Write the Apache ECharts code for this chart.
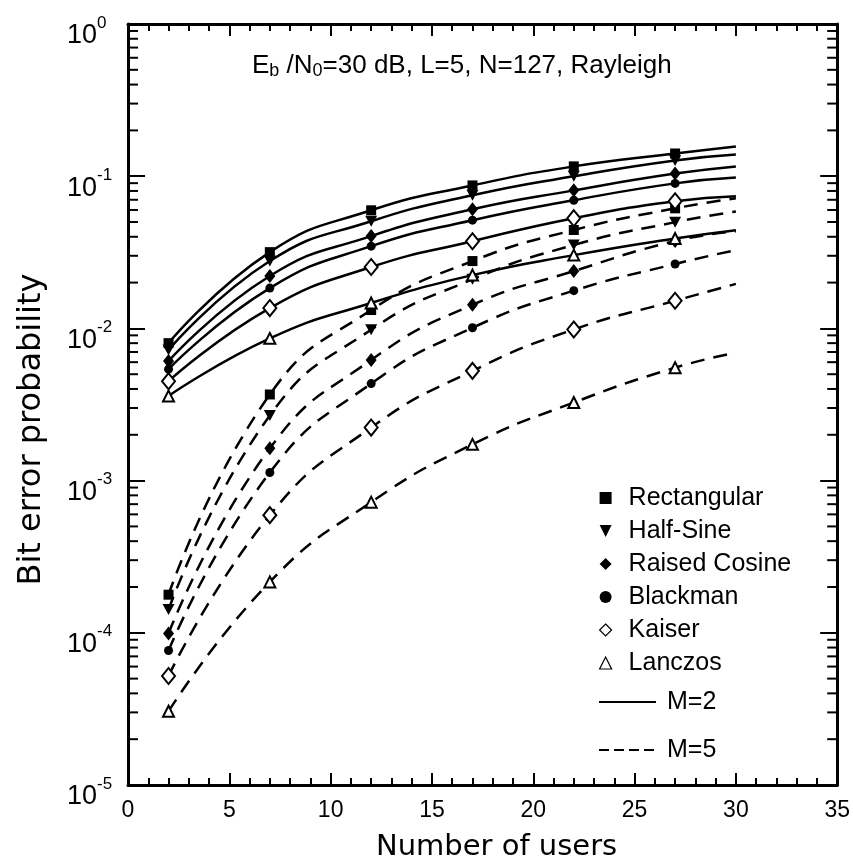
<!DOCTYPE html>
<html>
<head>
<meta charset="UTF-8">
<title>BER vs users</title>
<script src="https://cdn.jsdelivr.net/npm/echarts@6/dist/echarts.min.js"></script>
<style>
  html, body { margin: 0; padding: 0; background: #fff; }
  #chart { width: 853px; height: 867px; }
</style>
</head>
<body>
<div id="chart"></div>
<script>
// number of users (x); last point has no marker
var users = [2, 7, 12, 17, 22, 27, 30];

// M=2 (solid)
var rectM2   = [0.0080, 0.0317, 0.0597, 0.087, 0.116, 0.141, 0.157];
var halfM2   = [0.0072, 0.0277, 0.0506, 0.075, 0.100, 0.127, 0.139];
var rcosM2   = [0.0061, 0.0221, 0.0404, 0.0607, 0.0807, 0.104, 0.116];
var blackM2  = [0.0054, 0.0184, 0.0347, 0.0514, 0.0695, 0.0897, 0.098];
var kaiserM2 = [0.0045, 0.0136, 0.0253, 0.0374, 0.053, 0.0684, 0.0738];
var lancM2   = [0.0036, 0.0086, 0.0147, 0.0224, 0.0303, 0.039, 0.0442];

// M=5 (dashed)
var rectM5   = [1.78e-4, 3.68e-3, 0.0132, 0.0277, 0.0443, 0.0615, 0.0716];
var halfM5   = [1.42e-4, 2.68e-3, 9.8e-3, 0.021, 0.0353, 0.0499, 0.0586];
var rcosM5   = [9.9e-5, 1.63e-3, 6.2e-3, 0.0143, 0.0238, 0.0375, 0.0434];
var blackM5  = [7.65e-5, 1.13e-3, 4.34e-3, 0.0101, 0.0177, 0.0265, 0.0327];
var kaiserM5 = [5.2e-5, 5.93e-4, 2.23e-3, 5.26e-3, 9.84e-3, 0.0152, 0.0196];
var lancM5   = [3.05e-5, 2.16e-4, 7.22e-4, 1.73e-3, 3.26e-3, 5.52e-3, 6.92e-3];

var windowNames = ['Rectangular', 'Half-Sine', 'Raised Cosine', 'Blackman', 'Kaiser', 'Lanczos'];
var xTicks = [0, 5, 10, 15, 20, 25, 30, 35];
var decades = [1e-5, 1e-4, 1e-3, 1e-2, 1e-1];
var minorSteps = [2, 3, 4, 5, 6, 7, 8, 9];

var FONT = '"Liberation Sans", Arial, sans-serif';
var NAMEFONT = '"DejaVu Sans", sans-serif';

var myChart = echarts.init(document.getElementById('chart'));

// marker look per window
var marks = {
  'Rectangular':   { symbol: 'rect', size: 10 },
  'Half-Sine':     { symbol: 'path://M0,0L10,0L5,9Z', size: [12, 11] },
  'Raised Cosine': { symbol: 'diamond', size: [11, 14] },
  'Blackman':      { symbol: 'circle', size: 9 },
  'Kaiser':        { symbol: 'emptyDiamond', size: [13, 16] },
  'Lanczos':       { symbol: 'emptyTriangle', size: 11 }
};

function pts(vals) {
  return vals.map(function (v, i) {
    var p = { value: [users[i], v] };
    if (i == vals.length - 1) p.symbol = 'none';
    return p;
  });
}

function mkSeries(name, vals, dashed) {
  var m = marks[name];
  return {
    name: name,
    type: 'line',
    data: pts(vals),
    smooth: 0.5,
    symbol: m.symbol,
    symbolSize: m.size,
    showAllSymbol: true,
    lineStyle: { color: '#000', width: 2.5, type: dashed ? [14, 9] : 'solid' },
    itemStyle: { color: '#000', borderColor: '#000', borderWidth: m.symbol.indexOf('empty') == 0 ? 2.5 : 0 },
    emphasis: { disabled: true },
    z: 3
  };
}

var series = [];
var solid = [rectM2, halfM2, rcosM2, blackM2, kaiserM2, lancM2];
var dash = [rectM5, halfM5, rcosM5, blackM5, kaiserM5, lancM5];
for (var i = 0; i < windowNames.length; i++) {
  series.push(mkSeries(windowNames[i], solid[i], false));
  series.push(mkSeries(windowNames[i], dash[i], true));
}
// line-style legend entries
series.push({ name: 'M=2', type: 'line', data: [], symbol: 'none',
  lineStyle: { color: '#000', width: 1.5, type: 'solid' }, itemStyle: { color: '#000' } });
series.push({ name: 'M=5', type: 'line', data: [], symbol: 'none',
  lineStyle: { color: '#000', width: 1.5, type: [10, 5] }, itemStyle: { color: '#000' } });

// minor log ticks on left and right edges
var minorData = [];
decades.forEach(function (d) {
  minorSteps.forEach(function (k) { minorData.push([0, d * k]); });
});
series.push({
  type: 'custom',
  silent: true,
  clip: false,
  data: minorData,
  z: 5,
  renderItem: function (params, api) {
    var v = api.value(1);
    var a = api.coord([0, v]);
    var b = api.coord([35, v]);
    return {
      type: 'group',
      children: [
        { type: 'line', shape: { x1: a[0], y1: a[1], x2: a[0] + 10, y2: a[1] }, style: { stroke: '#000', lineWidth: 2 } },
        { type: 'line', shape: { x1: b[0], y1: b[1], x2: b[0] - 10, y2: b[1] }, style: { stroke: '#000', lineWidth: 2 } }
      ]
    };
  }
});

var xBase = {
  type: 'value', min: xTicks[0], max: xTicks[xTicks.length - 1], interval: 5,
  axisLine: { show: true, lineStyle: { color: '#000', width: 3 } },
  axisTick: { show: true, inside: true, length: 12, lineStyle: { color: '#000', width: 2 } },
  minorTick: { show: true, splitNumber: 5, length: 7, lineStyle: { color: '#000', width: 2 } },
  splitLine: { show: false }
};
var yBase = {
  type: 'log', logBase: 10, min: 1e-5, max: 1,
  axisLine: { show: true, onZero: false, lineStyle: { color: '#000', width: 3 } },
  axisTick: { show: true, inside: true, length: 17, lineStyle: { color: '#000', width: 2 } },
  splitLine: { show: false }
};

var hidden = { color: 'rgba(0,0,0,0)', borderColor: 'rgba(0,0,0,0)', borderWidth: 0 };

option = {
  animation: false,
  backgroundColor: '#fff',
  title: {
    left: 247, top: 46,
    text: '{a|E}{s|b}{a| /N}{s|0}{a|=30 dB, L=5, N=127, Rayleigh}',
    textStyle: {
      rich: {
        a: { fontFamily: FONT, fontSize: 26, fontWeight: 'normal', color: '#000' },
        s: { fontFamily: FONT, fontSize: 18, fontWeight: 'normal', color: '#000', padding: [11, 0, 0, 0] }
      }
    }
  },
  grid: { left: 128, right: 11, top: 24, bottom: 80 },
  legend: [{
    orient: 'vertical',
    left: 594, top: 479,
    itemWidth: 12, itemHeight: 12, itemGap: 5,
    selectedMode: false,
    textStyle: { fontFamily: FONT, fontSize: 25, color: '#000', lineHeight: 28, padding: [0, 0, 0, 12] },
    data: [
      { name: 'Rectangular', icon: 'rect' },
      { name: 'Half-Sine', icon: 'path://M0,0L10,0L5,10Z' },
      { name: 'Raised Cosine', icon: 'diamond' },
      { name: 'Blackman', icon: 'circle' },
      { name: 'Kaiser', icon: 'diamond', itemStyle: { color: '#fff', borderColor: '#000', borderWidth: 1.2 } },
      { name: 'Lanczos', icon: 'triangle', itemStyle: { color: '#fff', borderColor: '#000', borderWidth: 1.2 } }
    ]
  }, {
    orient: 'vertical',
    left: 593, top: 683,
    itemWidth: 57, itemHeight: 14, itemGap: 20,
    selectedMode: false,
    textStyle: { fontFamily: FONT, fontSize: 25, color: '#000', lineHeight: 28, padding: [0, 0, 0, 6] },
    data: [
      { name: 'M=2', itemStyle: hidden },
      { name: 'M=5', itemStyle: hidden }
    ]
  }],
  xAxis: [
    echarts.util.merge({
      position: 'bottom',
      name: 'Number of users',
      nameLocation: 'middle',
      nameGap: 48,
      nameTextStyle: { fontFamily: NAMEFONT, fontSize: 29, color: '#000', padding: [0, 0, 0, 28] },
      axisLabel: { margin: 14, fontFamily: FONT, fontSize: 23, color: '#000' }
    }, xBase, true),
    echarts.util.merge({ position: 'top', axisLabel: { show: false } }, xBase, true)
  ],
  yAxis: [
    echarts.util.merge({
      position: 'left',
      name: 'Bit error probability',
      nameLocation: 'middle',
      nameGap: 80,
      nameTextStyle: { fontFamily: NAMEFONT, fontSize: 32, color: '#000', padding: [0, 50, 0, 0] },
      axisLabel: {
        margin: 61, align: 'left', verticalAlign: 'middle',
        padding: [16, 0, 0, 0],
        formatter: function (v) {
          var e = Math.round(Math.log10(v));
          return '{b|10}{s|' + e + '}';
        },
        rich: {
          b: { fontFamily: FONT, fontSize: 27, color: '#000', padding: [8, 0, 0, 0], verticalAlign: 'bottom' },
          s: { fontFamily: FONT, fontSize: 17, color: '#000', verticalAlign: 'top' }
        }
      }
    }, yBase, true),
    echarts.util.merge({ position: 'right', axisLabel: { show: false } }, yBase, true)
  ],
  series: series
};

myChart.setOption(option);
</script>
</body>
</html>
